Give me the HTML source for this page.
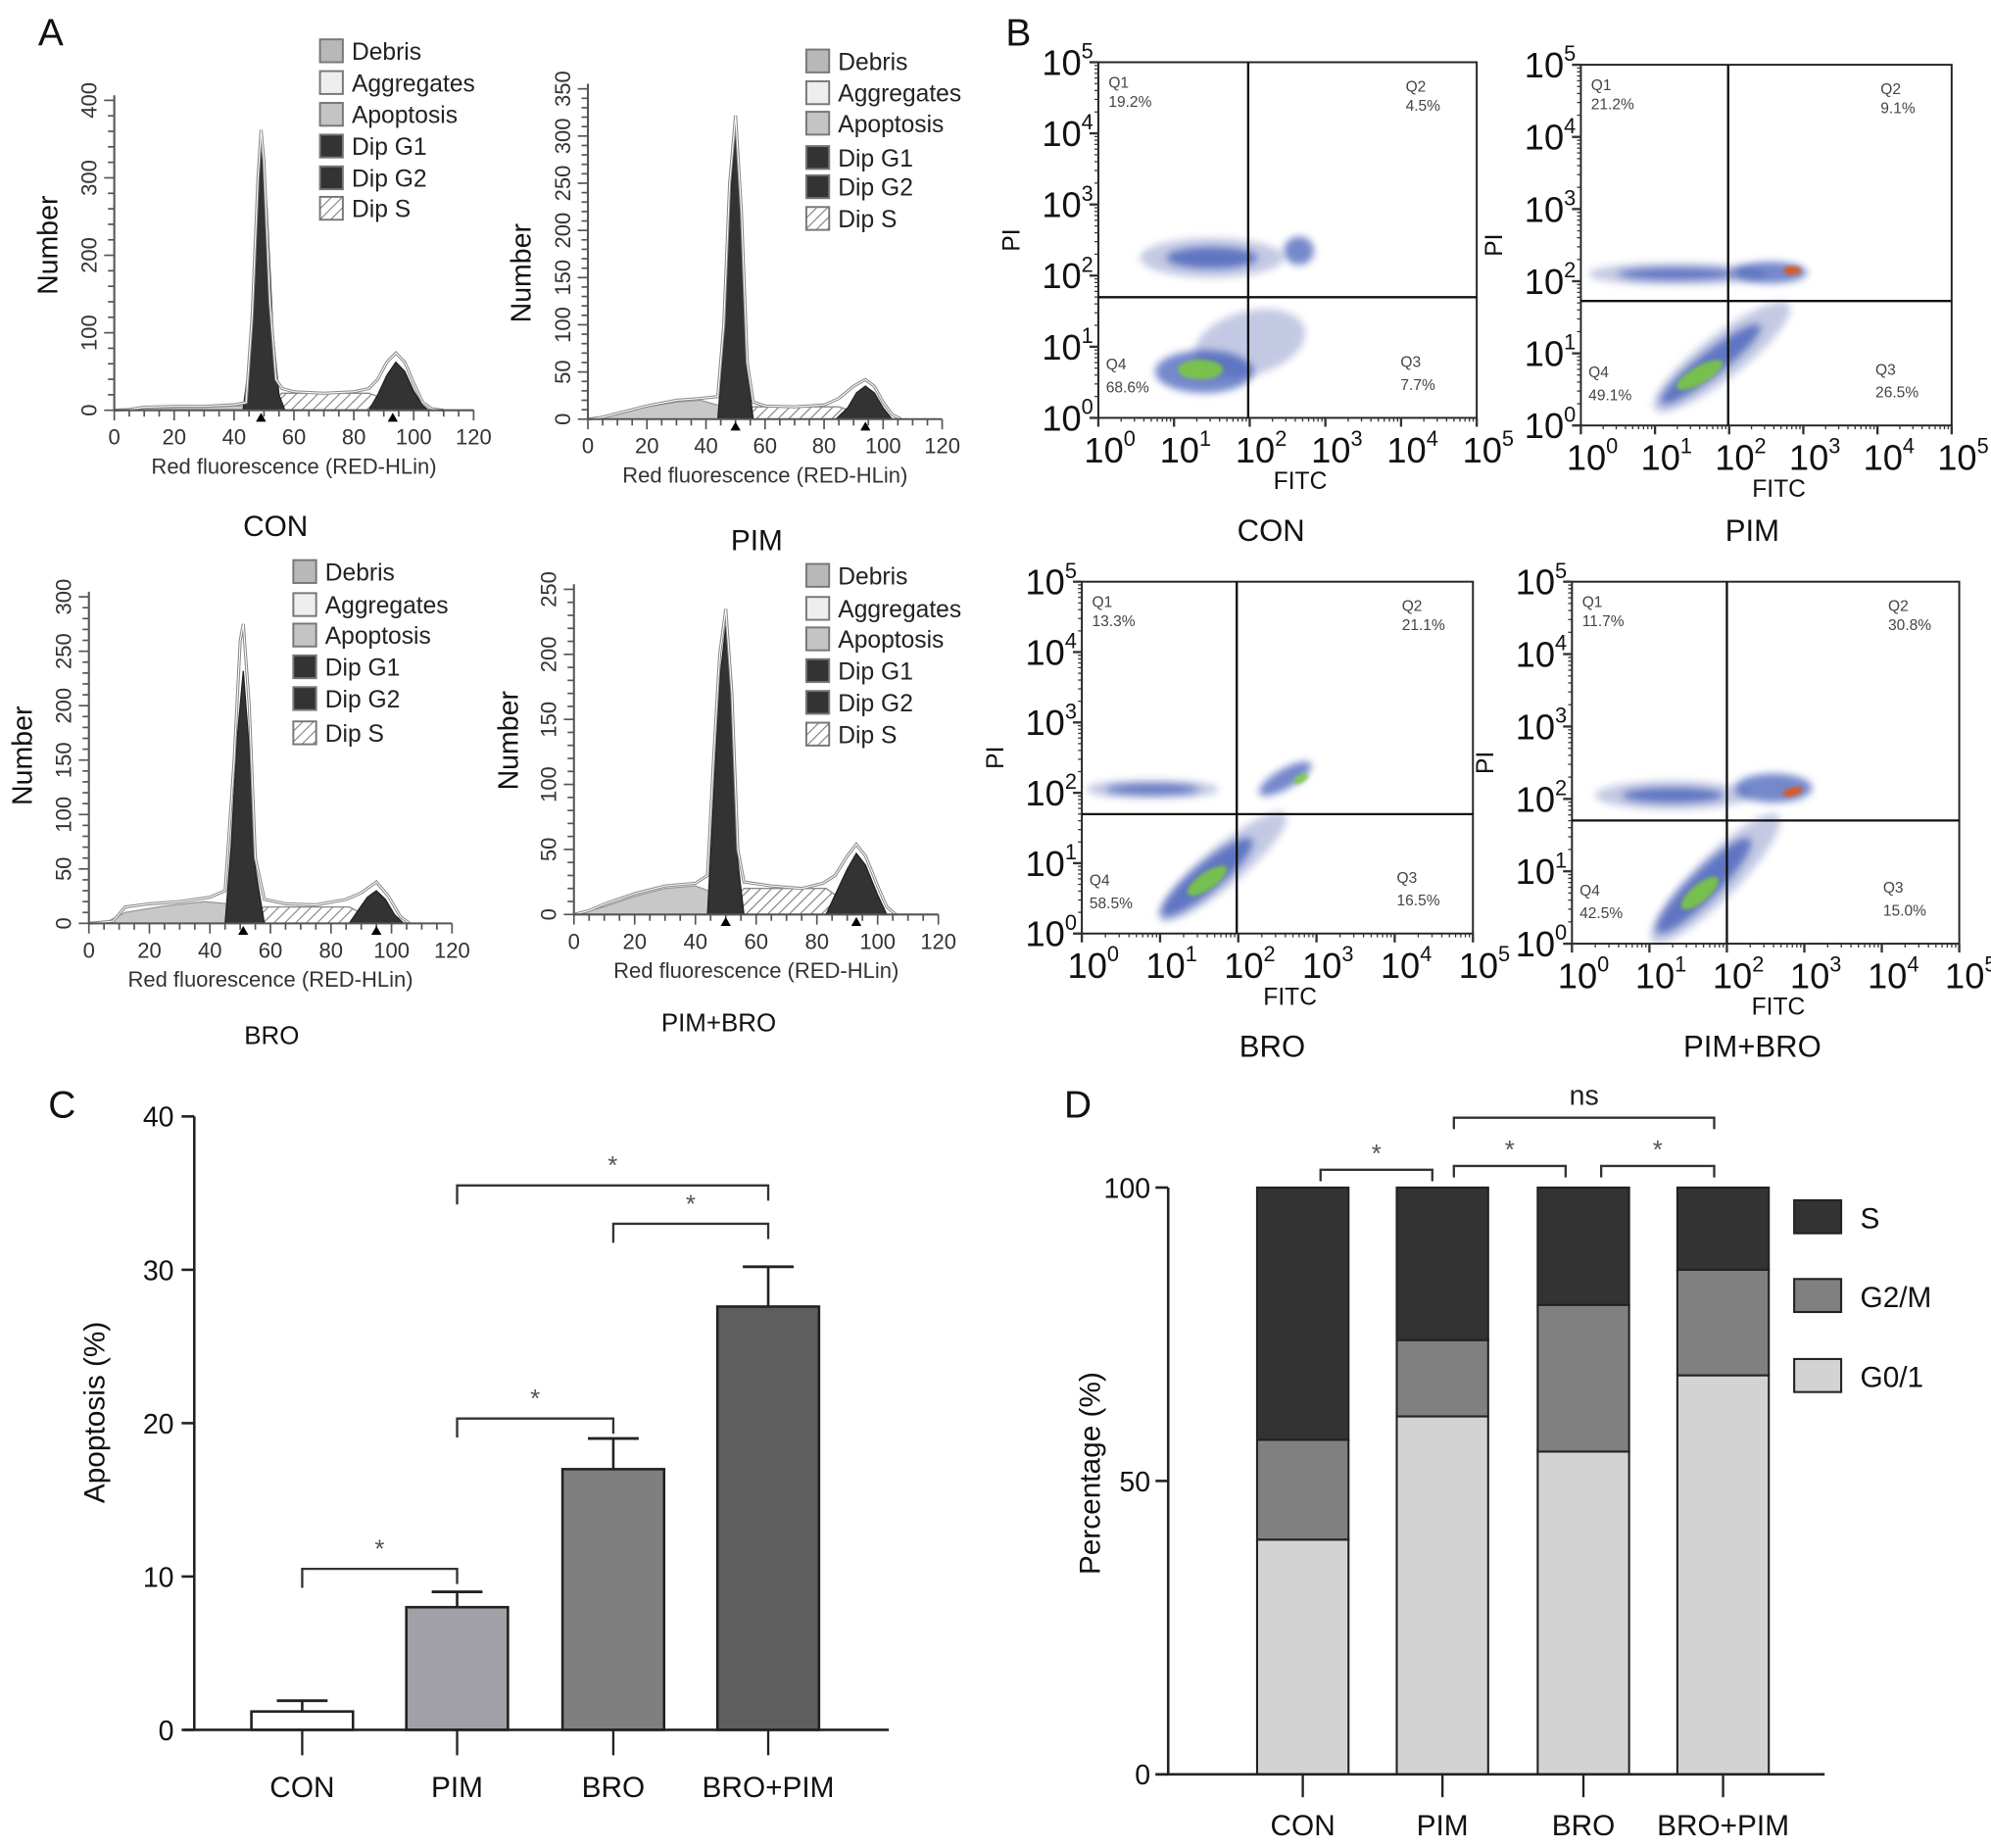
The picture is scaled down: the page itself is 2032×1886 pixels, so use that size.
<!DOCTYPE html>
<html><head><meta charset="utf-8"><style>
html,body{margin:0;padding:0;background:#fff;}
svg{display:block;font-family:"Liberation Sans",Arial,sans-serif;}
</style></head><body>
<svg id="fig" width="2032" height="1886" viewBox="0 0 1568 1455" preserveAspectRatio="none" xmlns="http://www.w3.org/2000/svg">
<defs>
<pattern id="hatch" patternUnits="userSpaceOnUse" width="6" height="6" patternTransform="rotate(45)"><rect width="6" height="6" fill="#fff"/><line x1="0" y1="0" x2="0" y2="6" stroke="#777" stroke-width="1.6"/></pattern>
<filter id="blur" x="-50%" y="-50%" width="200%" height="200%"><feGaussianBlur stdDeviation="3"/></filter>
<filter id="blur2" x="-50%" y="-50%" width="200%" height="200%"><feGaussianBlur stdDeviation="1.5"/></filter>
</defs>
</svg>
<script>
// ===== Panel A data (x = fluorescence, y = count) =====
const conTotal=[[0,0],[5,1],[10,4],[20,5],[30,5],[40,7],[44,10],[46,120],[48,300],[49,362],[50,320],[52,140],[54,40],[56,28],[60,24],[70,22],[80,24],[85,28],[88,40],[91,62],[94,74],[97,62],[100,35],[103,10],[106,2],[110,0]];
const conDebris=[[8,0],[10,3],[30,4],[44,6],[46,0]];
const conG1=[[43,0],[45,60],[47,200],[49,355],[51,260],[53,100],[55,20],[57,0]];
const conG2=[[85,0],[88,20],[91,45],[94,62],[97,50],[100,25],[103,6],[105,0]];
const conS=[[48,0],[52,10],[56,22],[85,22],[90,15],[94,0]];
const pimTotal=[[0,0],[5,2],[10,6],[20,14],[30,20],[38,22],[44,24],[46,100],[48,250],[50,322],[52,220],[54,60],[56,18],[60,14],[70,13],[80,15],[85,22],[90,35],[94,42],[97,35],[100,18],[103,5],[106,0]];
const pimDebris=[[0,0],[10,5],[20,13],[30,18],[38,20],[45,14],[52,0]];
const pimG1=[[44,0],[46,80],[48,220],[50,315],[52,200],[54,50],[56,0]];
const pimG2=[[84,0],[88,12],[91,28],[94,35],[97,28],[100,12],[103,0]];
const pimS=[[48,0],[53,8],[56,13],[85,13],[90,8],[94,0]];
const broTotal=[[0,0],[8,2],[12,15],[20,18],[30,20],[40,24],[45,30],[48,150],[50,260],[51,275],[53,200],[55,60],[58,22],[65,18],[75,17],[85,22],[90,28],[95,38],[99,25],[103,6],[106,0]];
const broDebris=[[5,0],[12,10],[25,16],[38,20],[46,18],[54,0]];
const broG1=[[45,0],[47,70],[49,170],[51,232],[53,160],[55,50],[58,0]];
const broG2=[[86,0],[89,12],[92,24],[95,30],[98,22],[101,8],[104,0]];
const broS=[[49,0],[54,10],[58,15],[86,15],[91,8],[95,0]];
const pbTotal=[[0,0],[5,3],[10,8],[20,16],[30,22],[40,24],[44,30],[46,120],[48,200],[50,235],[52,170],[54,50],[56,25],[65,22],[75,20],[82,24],[86,30],[90,45],[93,54],[96,45],[100,22],[103,6],[106,0]];
const pbDebris=[[0,0],[10,6],[20,14],[30,20],[40,22],[48,15],[52,0]];
const pbG1=[[44,0],[46,90],[48,180],[50,222],[52,160],[54,40],[56,0]];
const pbG2=[[83,0],[86,15],[90,35],[93,47],[96,38],[100,15],[103,0]];
const pbS=[[48,0],[53,12],[56,20],[83,20],[88,12],[93,0]];
const histXTicks=[0,20,40,60,80,100,120];
const legendItems=["Debris","Aggregates","Apoptosis","Dip G1","Dip G2","Dip S"];

// ===== Panel B data (clusters in log10 units) [lx, ly, rx, ry, angleDeg, kind] =====
const conClusters=[[1.5,2.25,0.95,0.28,0,"o"],[1.5,2.25,0.6,0.15,0,"b"],[2.65,2.35,0.2,0.2,0,"b"],[2.0,1.05,0.75,0.45,-15,"o"],[1.4,0.65,0.65,0.3,0,"b"],[1.35,0.68,0.3,0.14,0,"g"]];
const pimClusters=[[1.3,2.1,1.2,0.16,0,"o"],[1.3,2.1,0.8,0.08,0,"b"],[2.55,2.12,0.5,0.15,0,"b"],[2.85,2.15,0.12,0.06,0,"r"],[1.9,0.95,1.15,0.3,-38,"o"],[1.75,0.85,0.85,0.17,-38,"b"],[1.6,0.7,0.35,0.12,-30,"g"]];
const broClusters=[[0.9,2.05,0.85,0.14,0,"o"],[0.9,2.05,0.6,0.07,0,"b"],[2.6,2.2,0.38,0.14,-30,"b"],[2.8,2.2,0.1,0.06,-30,"g"],[1.8,0.95,1.05,0.28,-40,"o"],[1.6,0.8,0.75,0.2,-40,"b"],[1.6,0.75,0.3,0.12,-35,"g"]];
const pbClusters=[[1.3,2.05,1.0,0.2,0,"o"],[1.3,2.05,0.65,0.1,0,"b"],[2.6,2.15,0.5,0.2,0,"b"],[2.85,2.1,0.13,0.06,-15,"r"],[1.85,0.9,1.15,0.3,-45,"o"],[1.7,0.8,0.85,0.2,-45,"b"],[1.65,0.7,0.3,0.12,-40,"g"]];
const conQuad=["19.2%","4.5%","7.7%","68.6%"];
const pimQuad=["21.2%","9.1%","26.5%","49.1%"];
const broQuad=["13.3%","21.1%","16.5%","58.5%"];
const pbQuad=["11.7%","30.8%","15.0%","42.5%"];
const logTicks=[0,1,2,3,4,5];

// ===== Panel C data =====
const cCats=["CON","PIM","BRO","BRO+PIM"];
const cMeans=[1.2,8.0,17.0,27.6];
const cErrs=[1.9,9.0,19.0,30.2];
const cTicks=[0,10,20,30,40];
const cColors=["#ffffff","#a0a0a6","#7f7f7f","#5e5e5e"];

// ===== Panel D data =====
const dCats=["CON","PIM","BRO","BRO+PIM"];
const dG01=[40,61,55,68];
const dG2M=[17,13,25,18];
const dS=[43,26,20,14];
const dTicks=[0,50,100];

const svg=document.getElementById('fig');
const NS='http://www.w3.org/2000/svg';
function mk(tag,attrs,parent){const el=document.createElementNS(NS,tag);for(const k in attrs)el.setAttribute(k,attrs[k]);(parent||svg).appendChild(el);return el;}
function nm(el,name){
  
  
  return el;
}
function txt(x,y,s,size,anchor,parent,extra){const t=mk('text',Object.assign({x:x,y:y,'font-size':size,'text-anchor':anchor||'middle',fill:'#111'},extra||{}),parent);t.textContent=s;return t;}

nm(txt(30,36,"A",30,'start'),'panel-a-label');
nm(txt(792,36,"B",30,'start'),'panel-b-label');
nm(txt(38,880,"C",30,'start'),'panel-c-label');
nm(txt(838,880,"D",30,'start'),'panel-d-label');

function hist(cfg){
  const g=nm(mk('g',{}),cfg.name);
  const sx=v=>cfg.x0+v/120*(cfg.x1-cfg.x0);
  const sy=v=>cfg.y0-v*cfg.k;
  const poly=(pts)=>pts.map(p=>sx(p[0]).toFixed(1)+','+sy(p[1]).toFixed(1)).join(' ');
  nm(mk('polygon',{points:poly(cfg.debris),fill:'#c8c8c8',stroke:'#999','stroke-width':1},g),'debris-area');
  nm(mk('polygon',{points:poly(cfg.s),fill:'url(#hatch)',stroke:'#888','stroke-width':1},g),'dip-s-area');
  nm(mk('polygon',{points:poly(cfg.g1),fill:'#333',stroke:'#222','stroke-width':1},g),'dip-g1-peak');
  nm(mk('polygon',{points:poly(cfg.g2),fill:'#333',stroke:'#222','stroke-width':1},g),'dip-g2-peak');
  nm(mk('polyline',{points:poly(cfg.total),fill:'none',stroke:'#888','stroke-width':2.4},g),'total-curve');
  mk('polyline',{points:poly(cfg.total),fill:'none',stroke:'#fff','stroke-width':0.8},g);
  nm(mk('line',{x1:cfg.x0,y1:cfg.y0,x2:cfg.x1,y2:cfg.y0,stroke:'#555','stroke-width':1.6},g),'x-axis');
  nm(mk('line',{x1:cfg.x0,y1:cfg.y0,x2:cfg.x0,y2:sy(cfg.ymax)-4,stroke:'#555','stroke-width':1.6},g),'y-axis');
  for(let v=0;v<=120;v+=5){mk('line',{x1:sx(v),y1:cfg.y0,x2:sx(v),y2:cfg.y0+(v%20===0?8:5),stroke:'#555','stroke-width':1.3},g);}
  histXTicks.forEach(v=>{nm(txt(sx(v),cfg.y0+27,String(v),17,'middle',g,{fill:'#333'}),'x-tick-label');});
  for(let v=0;v<=cfg.ymax;v+=cfg.minor){mk('line',{x1:cfg.x0,y1:sy(v),x2:cfg.x0-(v%cfg.major===0?8:5),y2:sy(v),stroke:'#555','stroke-width':1.3},g);}
  for(let v=0;v<=cfg.ymax;v+=cfg.major){const yy=sy(v);nm(txt(cfg.x0-14,yy,String(v),17,'middle',g,{fill:'#333',transform:`rotate(-90 ${cfg.x0-14} ${yy})`}),'y-tick-label');}
  [cfg.m1,cfg.m2].forEach(m=>{const x=sx(m);nm(mk('polygon',{points:`${x-4},${cfg.y0+9} ${x+4},${cfg.y0+9} ${x},${cfg.y0+2}`,fill:'#000'},g),'peak-marker');});
  nm(txt((cfg.x0+cfg.x1)/2,cfg.y0+50,"Red fluorescence (RED-HLin)",17,'middle',g,{fill:'#333'}),'x-axis-title');
  const ny=cfg.numY;nm(txt(cfg.numX,ny,"Number",22,'middle',g,{transform:`rotate(-90 ${cfg.numX} ${ny})`}),'y-axis-title');
  nm(txt(cfg.tx,cfg.ty,cfg.title,cfg.tsize,'middle',g),'panel-title');
  const fills=['#b8b8b8','#eeeeee','#c4c4c4','#333','#333','url(#hatch)'];
  legendItems.forEach((s2,i)=>{const ly=cfg.legY[i];
    const le=nm(mk('g',{},g),'legend-entry');
    mk('rect',{x:cfg.legX,y:ly-9,width:18,height:18,fill:fills[i],stroke:'#777','stroke-width':1.5},le);
    txt(cfg.legX+25,ly+7,s2,19,'start',le,{fill:'#222'});
  });
}
hist({name:'histogram-con',x0:90,x1:373,y0:323,k:0.61,ymax:400,major:100,minor:20,total:conTotal,debris:conDebris,g1:conG1,g2:conG2,s:conS,m1:49,m2:93,numX:45,numY:193,title:"CON",tx:217,ty:422,tsize:23,legX:252,legY:[40,65,90,115,140,164]});
hist({name:'histogram-pim',x0:463,x1:742,y0:330,k:0.743,ymax:350,major:50,minor:10,total:pimTotal,debris:pimDebris,g1:pimG1,g2:pimG2,s:pimS,m1:50,m2:94,numX:418,numY:215,title:"PIM",tx:596,ty:433,tsize:23,legX:635,legY:[48,73,97,124,147,172]});
hist({name:'histogram-bro',x0:70,x1:356,y0:727,k:0.857,ymax:300,major:50,minor:10,total:broTotal,debris:broDebris,g1:broG1,g2:broG2,s:broS,m1:51,m2:95,numX:25,numY:595,title:"BRO",tx:214,ty:822,tsize:20,legX:231,legY:[450,476,500,525,550,577]});
hist({name:'histogram-pim-bro',x0:452,x1:739,y0:720,k:1.024,ymax:250,major:50,minor:10,total:pbTotal,debris:pbDebris,g1:pbG1,g2:pbG2,s:pbS,m1:50,m2:93,numX:408,numY:583,title:"PIM+BRO",tx:566,ty:812,tsize:20,legX:635,legY:[453,479,503,528,553,578]});

function flow(cfg){
  const g=nm(mk('g',{}),cfg.name);
  const sx=l=>cfg.l+l/5*(cfg.r-cfg.l);
  const sy=l=>cfg.b-l/5*(cfg.b-cfg.t);
  const cols={o:['#8a94c8',0.5,'blur'],b:['#2a48b0',0.65,'blur'],g:['#7ccc3a',0.85,'blur2'],r:['#e0561c',0.9,'blur2']};
  cfg.clusters.forEach(c=>{const cx=sx(c[0]),cy=sy(c[1]);const rx=c[2]/5*(cfg.r-cfg.l),ry=c[3]/5*(cfg.b-cfg.t);const co=cols[c[5]];
    nm(mk('ellipse',{cx:cx,cy:cy,rx:rx,ry:ry,fill:co[0],opacity:co[1],filter:`url(#${co[2]})`,transform:`rotate(${c[4]} ${cx} ${cy})`},g),'cell-cluster');});
  nm(mk('rect',{x:cfg.l,y:cfg.t,width:cfg.r-cfg.l,height:cfg.b-cfg.t,fill:'none',stroke:'#222','stroke-width':1.5},g),'plot-frame');
  nm(mk('line',{x1:cfg.qx,y1:cfg.t,x2:cfg.qx,y2:cfg.b,stroke:'#111','stroke-width':1.8},g),'quadrant-vline');
  nm(mk('line',{x1:cfg.l,y1:cfg.qy,x2:cfg.r,y2:cfg.qy,stroke:'#111','stroke-width':1.8},g),'quadrant-hline');
  for(let d=0;d<5;d++){for(let m=1;m<10;m++){const f=d+Math.log10(m);const big=m===1;
    mk('line',{x1:sx(f),y1:cfg.b,x2:sx(f),y2:cfg.b+(big?7:3),stroke:'#333','stroke-width':big?1.8:1},g);
    mk('line',{x1:cfg.l,y1:sy(f),x2:cfg.l-(big?7:3),y2:sy(f),stroke:'#333','stroke-width':big?1.8:1},g);}}
  mk('line',{x1:sx(5),y1:cfg.b,x2:sx(5),y2:cfg.b+7,stroke:'#333','stroke-width':1.8},g);
  mk('line',{x1:cfg.l,y1:sy(5),x2:cfg.l-7,y2:sy(5),stroke:'#333','stroke-width':1.8},g);
  logTicks.forEach(d=>{
    const t=nm(txt(sx(d)+9,cfg.b+35,"10",cfg.fs,'middle',g),'x-tick-label');const sp=mk('tspan',{dy:-13,'font-size':cfg.fs*0.6},t);sp.textContent=String(d);
    const t2=nm(txt(cfg.l-4,sy(d)+10,"10",cfg.fs,'end',g),'y-tick-label');const sp2=mk('tspan',{dy:-13,'font-size':cfg.fs*0.6},t2);sp2.textContent=String(d);
  });
  nm(txt((cfg.l+cfg.r)/2+10,cfg.b+56,"FITC",19,'middle',g),'x-axis-title');
  const py=(cfg.t+cfg.b)/2;nm(txt(cfg.l-62,py,"PI",19,'middle',g,{transform:`rotate(-90 ${cfg.l-62} ${py})`}),'y-axis-title');
  const q=cfg.quad,qc={fill:'#444'};
  txt(cfg.l+8,cfg.t+20,"Q1",12,'start',g,qc);nm(txt(cfg.l+8,cfg.t+35,q[0],12,'start',g,qc),'q1-value');
  txt(cfg.r-56,cfg.t+23,"Q2",12,'start',g,qc);nm(txt(cfg.r-56,cfg.t+38,q[1],12,'start',g,qc),'q2-value');
  txt(cfg.r-60,cfg.b-40,"Q3",12,'start',g,qc);nm(txt(cfg.r-60,cfg.b-22,q[2],12,'start',g,qc),'q3-value');
  txt(cfg.l+6,cfg.b-38,"Q4",12,'start',g,qc);nm(txt(cfg.l+6,cfg.b-20,q[3],12,'start',g,qc),'q4-value');
  nm(txt(cfg.tx,cfg.ty,cfg.title,24,'middle',g),'panel-title');
}
flow({name:'flow-con',l:865,r:1163,t:49,b:329,qx:983,qy:234,clusters:conClusters,quad:conQuad,fs:28,title:"CON",tx:1001,ty:426});
flow({name:'flow-pim',l:1245,r:1537,t:51,b:335,qx:1361,qy:237,clusters:pimClusters,quad:pimQuad,fs:28,title:"PIM",tx:1380,ty:426});
flow({name:'flow-bro',l:852,r:1160,t:458,b:735,qx:974,qy:641,clusters:broClusters,quad:broQuad,fs:28,title:"BRO",tx:1002,ty:832});
flow({name:'flow-pim-bro',l:1238,r:1543,t:458,b:743,qx:1360,qy:646,clusters:pbClusters,quad:pbQuad,fs:28,title:"PIM+BRO",tx:1380,ty:832});

(function(){
  const g=nm(mk('g',{}),'apoptosis-bar-chart');
  const x0=153,yb=1362,k=483/40;const sy=v=>yb-v*k;
  const cx=[238,360,483,605];const bw=80;
  cMeans.forEach((v,i)=>{
    nm(mk('line',{x1:cx[i],y1:sy(v),x2:cx[i],y2:sy(cErrs[i]),stroke:'#222','stroke-width':2},g),'error-bar');
    mk('line',{x1:cx[i]-20,y1:sy(cErrs[i]),x2:cx[i]+20,y2:sy(cErrs[i]),stroke:'#222','stroke-width':2.2},g);
    nm(mk('rect',{x:cx[i]-bw/2,y:sy(v),width:bw,height:yb-sy(v),fill:cColors[i],stroke:'#222','stroke-width':2},g),'bar-'+cCats[i].toLowerCase().replace('+','-'));
    mk('line',{x1:cx[i],y1:yb,x2:cx[i],y2:yb+20,stroke:'#222','stroke-width':1.8},g);
    nm(txt(cx[i],yb+53,cCats[i],23,'middle',g),'x-tick-label');
  });
  nm(mk('line',{x1:x0,y1:sy(40),x2:x0,y2:yb,stroke:'#222','stroke-width':2},g),'y-axis');
  nm(mk('line',{x1:x0-8,y1:yb,x2:700,y2:yb,stroke:'#222','stroke-width':2},g),'x-axis');
  cTicks.forEach(v=>{mk('line',{x1:x0-10,y1:sy(v),x2:x0,y2:sy(v),stroke:'#222','stroke-width':2},g);nm(txt(x0-16,sy(v)+8,String(v),22,'end',g),'y-tick-label');});
  nm(txt(82,1112,"Apoptosis (%)",23,'middle',g,{transform:'rotate(-90 82 1112)'}),'y-axis-title');
  const br=[[0,1,10.5,10.5],[1,2,20.3,20.3],[2,3,33,33],[1,3,35.5,35.5]];
  br.forEach(b=>{const y=sy(b[2]),xa=cx[b[0]],xb=cx[b[1]];
    nm(mk('polyline',{points:`${xa},${y+15} ${xa},${y} ${xb},${y} ${xb},${y+12}`,fill:'none',stroke:'#333','stroke-width':1.8},g),'significance-bracket');
    nm(txt((xa+xb)/2,y-9,"*",20,'middle',g,{fill:'#555'}),'significance-star');});
})();

(function(){
  const g=nm(mk('g',{}),'cell-cycle-stacked-chart');
  const x0=920,yb=1397,k=(1397-935)/100;const sy=v=>yb-v*k;
  const cx=[1026,1136,1247,1357];const bw=72;
  dCats.forEach((c,i)=>{
    const a=dG01[i],b=a+dG2M[i],t=b+dS[i];
    nm(mk('rect',{x:cx[i]-bw/2,y:sy(a),width:bw,height:sy(0)-sy(a),fill:'#d3d3d3',stroke:'#222','stroke-width':1.6},g),'segment-g01');
    nm(mk('rect',{x:cx[i]-bw/2,y:sy(b),width:bw,height:sy(a)-sy(b),fill:'#808080',stroke:'#222','stroke-width':1.6},g),'segment-g2m');
    nm(mk('rect',{x:cx[i]-bw/2,y:sy(t),width:bw,height:sy(b)-sy(t),fill:'#333333',stroke:'#222','stroke-width':1.6},g),'segment-s');
    mk('line',{x1:cx[i],y1:yb,x2:cx[i],y2:yb+18,stroke:'#222','stroke-width':1.8},g);
    nm(txt(cx[i],yb+48,c,23,'middle',g),'x-tick-label');
  });
  nm(mk('line',{x1:x0,y1:sy(100),x2:x0,y2:yb,stroke:'#222','stroke-width':2},g),'y-axis');
  nm(mk('line',{x1:x0-10,y1:yb,x2:1437,y2:yb,stroke:'#222','stroke-width':2},g),'x-axis');
  dTicks.forEach(v=>{mk('line',{x1:x0-10,y1:sy(v),x2:x0,y2:sy(v),stroke:'#222','stroke-width':2},g);nm(txt(x0-14,sy(v)+8,String(v),22,'end',g),'y-tick-label');});
  nm(txt(866,1160,"Percentage (%)",23,'middle',g,{transform:'rotate(-90 866 1160)'}),'y-axis-title');
  const leg=[["S","#333333",958],["G2/M","#808080",1020],["G0/1","#d3d3d3",1083]];
  leg.forEach(l=>{const e=nm(mk('g',{},g),'legend-entry');mk('rect',{x:1413,y:l[2]-13,width:37,height:26,fill:l[1],stroke:'#222','stroke-width':1.6},e);txt(1465,l[2]+9,l[0],23,'start',e);});
  const br=[[1040,1128,921,"*"],[1145,1233,918,"*"],[1261,1350,918,"*"],[1145,1350,880,"ns"]];
  br.forEach(b=>{nm(mk('polyline',{points:`${b[0]},${b[2]+9} ${b[0]},${b[2]} ${b[1]},${b[2]} ${b[1]},${b[2]+9}`,fill:'none',stroke:'#333','stroke-width':1.8},g),'significance-bracket');
    nm(txt((b[0]+b[1])/2,b[2]-(b[3]==="ns"?10:6),b[3],b[3]==="ns"?22:20,'middle',g,{fill:b[3]==="ns"?'#222':'#555'}),'significance-label');});
})();
</script>
</body></html>
